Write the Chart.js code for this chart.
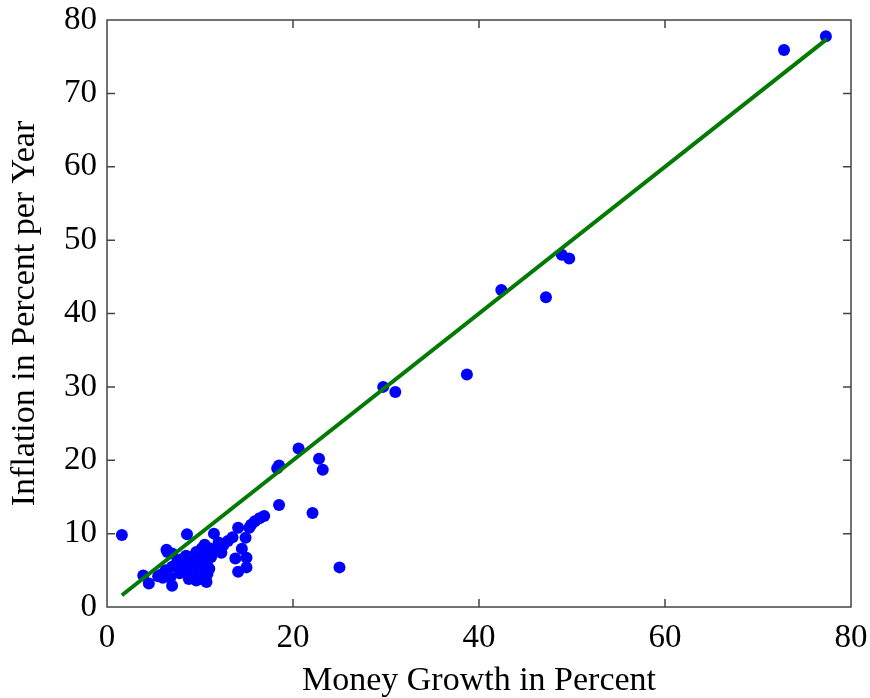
<!DOCTYPE html>
<html><head><meta charset="utf-8">
<script src="https://cdn.jsdelivr.net/npm/chart.js@4/dist/chart.umd.min.js"></script>
<style>html,body{margin:0;padding:0;background:#fff}#wrap{width:870px;height:698px}</style>
</head><body><div id="wrap"><canvas id="c" width="870" height="698"></canvas></div>
<script>
const moneyGrowth = [1.6,3.9,4.5,5.5,5.8,6.0,6.3,6.4,6.5,6.8,7.0,7.0,7.0,7.5,7.8,8.0,8.2,8.5,8.6,8.7,8.8,9.0,9.2,9.5,9.6,9.6,9.8,9.8,10.0,10.0,10.2,10.2,10.3,10.5,10.5,10.6,10.7,10.8,10.8,11.0,11.0,11.2,11.5,11.7,12.0,12.3,12.5,13.0,13.5,13.8,14.1,14.1,14.5,14.9,15.0,15.0,15.3,15.5,15.9,16.4,16.9,18.3,18.5,18.5,20.6,22.1,22.8,23.2,25.0,29.7,31.0,38.7,42.4,47.2,48.9,49.7,72.8,77.3];
const inflation   = [9.8,4.3,3.2,4.2,4.4,4.0,5.0,7.8,7.5,4.0,2.9,5.5,7.3,6.0,4.6,6.5,5.0,7.0,9.9,6.0,3.8,5.2,6.8,5.8,3.6,7.5,4.2,4.9,6.2,4.5,3.8,8.0,7.0,8.5,5.5,4.1,3.4,4.5,6.3,8.0,5.2,6.8,10.0,7.6,8.8,7.4,8.4,9.0,9.5,6.6,10.8,4.8,7.95,9.45,6.7,5.4,10.8,11.2,11.7,12.1,12.4,18.9,19.3,13.9,21.6,12.8,20.2,18.7,5.4,30.0,29.3,31.7,43.2,42.2,48.0,47.5,75.9,77.8];
const fitX = [1.6, 77.4];
const fitY = [1.6, 77.4];
const xTicks = [0,20,40,60,80];
const yTicks = [0,10,20,30,40,50,60,70,80];

const FONT = "'Liberation Serif','DejaVu Serif',serif";
const inwardTicks = {
  id:'inwardTicks',
  afterDraw(chart){
    const {ctx, chartArea:a, scales:{x,y}} = chart;
    ctx.save();
    ctx.strokeStyle='#444'; ctx.lineWidth=1.5;
    const L=8;
    ctx.beginPath();
    xTicks.forEach(v=>{const p=x.getPixelForValue(v); if(v===0||v===80) return;
      ctx.moveTo(p,a.bottom); ctx.lineTo(p,a.bottom-L); ctx.moveTo(p,a.top); ctx.lineTo(p,a.top+L);});
    yTicks.forEach(v=>{const p=y.getPixelForValue(v); if(v===0||v===80) return;
      ctx.moveTo(a.left,p); ctx.lineTo(a.left+L,p); ctx.moveTo(a.right,p); ctx.lineTo(a.right-L,p);});
    ctx.stroke();
    ctx.strokeRect(a.left,a.top,a.right-a.left,a.bottom-a.top);
    ctx.restore();
  }
};

new Chart(document.getElementById('c'), {
  data:{
    datasets:[
      {type:'scatter', data: moneyGrowth.map((v,i)=>({x:v,y:inflation[i]})), backgroundColor:'#0000ff', borderColor:'#0000ff', pointRadius:6, pointBorderWidth:0, order:2},
      {type:'line', data: fitX.map((v,i)=>({x:v,y:fitY[i]})), borderColor:'#007a00', borderWidth:4, pointRadius:0, fill:false, order:1}
    ]
  },
  options:{
    responsive:false, animation:false,
    layout:{padding:{top:20,right:19,left:0,bottom:0}},
    plugins:{legend:{display:false}, tooltip:{enabled:false}},
    scales:{
      x:{type:'linear', min:0, max:80, afterFit(s){s.height=91; s.paddingLeft=0; s.paddingRight=0;},
        afterBuildTicks(s){s.ticks=xTicks.map(v=>({value:v}));},
        grid:{display:false, drawTicks:false}, border:{display:false},
        ticks:{color:'#000', font:{family:FONT,size:33}, padding:12, maxRotation:0},
        title:{display:true, text:'Money Growth in Percent', color:'#000', font:{family:FONT,size:34, lineHeight:1.0}, padding:{top:0,bottom:0}}
      },
      y:{type:'linear', min:0, max:80, afterFit(s){s.width=107; s.paddingTop=0; s.paddingBottom=0;},
        afterBuildTicks(s){s.ticks=yTicks.map(v=>({value:v}));},
        grid:{display:false, drawTicks:false}, border:{display:false},
        ticks:{color:'#000', font:{family:FONT,size:33}, padding:10},
        title:{display:true, text:'Inflation in Percent per Year', color:'#000', font:{family:FONT,size:34, lineHeight:1.0}, padding:{top:8,bottom:0}}
      }
    }
  },
  plugins:[inwardTicks]
});
</script></body></html>
